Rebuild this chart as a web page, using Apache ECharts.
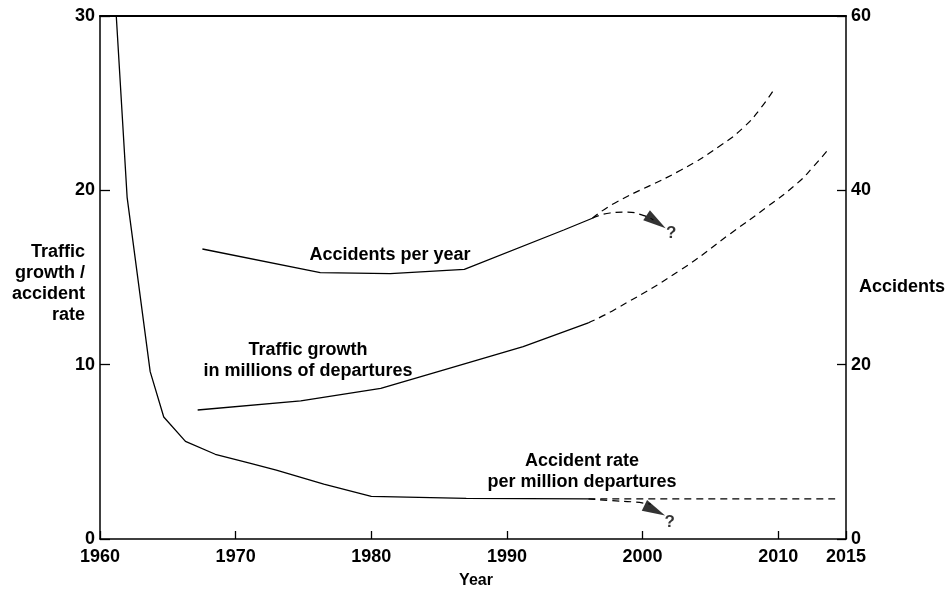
<!DOCTYPE html>
<html>
<head>
<meta charset="utf-8">
<script src="https://cdn.jsdelivr.net/npm/echarts@6/dist/echarts.min.js"></script>
<style>html,body{margin:0;padding:0;background:#fff}#c{width:948px;height:594px}</style>
</head>
<body>
<div id="c"></div>
<script>
// ---- data ----
var xTicks = [1960, 1970, 1980, 1990, 2000, 2010, 2015];
var leftTicks = [0, 10, 20, 30];
var rightTicks = [0, 20, 40, 60];

// Accident rate per million departures (left axis)
var rateYears  = [1961.2, 1962.0, 1963.7, 1964.7, 1966.3, 1968.5, 1971.1, 1973.0, 1976.5, 1980.0, 1987.0, 1996.0];
var rateValues = [30, 19.6, 9.6, 7.0, 5.6, 4.86, 4.34, 3.95, 3.15, 2.45, 2.33, 2.3];
var rateProjYears  = [1996.0, 2014.2];
var rateProjValues = [2.3, 2.3];
var rateBranchYears  = [1996.0, 1997.7, 1999.4, 2000.6];
var rateBranchValues = [2.3, 2.2, 2.12, 2.0];
var rateArrowYear = [2000.9];
var rateArrowValue = [1.64];

// Traffic growth in millions of departures (left axis)
var trafficYears  = [1967.2, 1974.8, 1980.7, 1985.3, 1991.2, 1996.0];
var trafficValues = [7.4, 7.92, 8.64, 9.69, 11.03, 12.4];
var trafficProjYears  = [1996.0, 1997.9, 2002.8, 2006.5, 2009.2, 2011.4, 2012.6, 2013.75];
var trafficProjValues = [12.4, 13.14, 15.43, 17.53, 19.06, 20.4, 21.36, 22.41];

// Accidents per year (right axis)
var accYears  = [1967.55, 1976.24, 1981.4, 1986.86, 1994.19, 1996.3];
var accValues = [33.27, 30.55, 30.44, 30.94, 35.45, 36.8];
var accProjYears  = [1996.3, 1997.9, 2002.8, 2005.8, 2007.5, 2008.7, 2009.7];
var accProjValues = [36.8, 38.5, 42.3, 45.2, 47.3, 49.4, 51.6];
var accBranchYears  = [1996.3, 1997.6, 1998.9, 2000.1, 2000.8];
var accBranchValues = [36.8, 37.4, 37.5, 37.1, 36.6];
var accArrowYear = [2001.0];
var accArrowValue = [36.4];

function pairs(xs, ys) { return xs.map(function (x, i) { return [x, ys[i]]; }); }

var FONT = 'Liberation Sans, Arial, sans-serif';
var lbl = { color: '#000', fontFamily: FONT, fontWeight: 'bold', fontSize: 18 };
var solid = { color: '#000', width: 1.3, type: 'solid' };
var dashed = { color: '#000', width: 1.2, type: [7, 5] };

function lineSeries(name, xs, ys, style, yIdx, smooth) {
  return { name: name, type: 'line', data: pairs(xs, ys), yAxisIndex: yIdx, symbol: 'none',
           smooth: smooth || false, lineStyle: style, silent: true, z: 3 };
}
function arrowSeries(xs, ys, yIdx, rot) {
  return { type: 'scatter', yAxisIndex: yIdx, data: pairs(xs, ys), symbol: 'triangle',
           symbolSize: [12, 23], symbolRotate: rot, itemStyle: { color: '#000' }, silent: true, z: 4,
           label: { show: true, formatter: '?', position: 'inside', offset: [15, 12],
                    color: '#000', fontFamily: FONT, fontWeight: 'bold', fontSize: 17 } };
}

var chart = echarts.init(document.getElementById('c'), null, { renderer: 'canvas' });
chart.setOption({
  animation: false,
  backgroundColor: '#fff',
  grid: { left: 100, right: 102, top: 16, bottom: 55, show: false },
  xAxis: [{
    type: 'value', min: xTicks[0], max: xTicks[xTicks.length - 1], interval: 10,
    axisLine: { onZero: false, lineStyle: { color: '#000', width: 1.5 } },
    axisTick: { inside: true, length: 8, lineStyle: { color: '#000', width: 1.3 } },
    axisLabel: Object.assign({ margin: 9, showMaxLabel: true, showMinLabel: true,
      formatter: function (v) { return String(v); } }, lbl),
    splitLine: { show: false }
  }, {
    type: 'value', position: 'top', min: xTicks[0], max: xTicks[xTicks.length - 1],
    axisLine: { show: true, onZero: false, lineStyle: { color: '#000', width: 2 } },
    axisTick: { show: false }, axisLabel: { show: false }, splitLine: { show: false }
  }],
  yAxis: [{
    type: 'value', min: leftTicks[0], max: leftTicks[leftTicks.length - 1], interval: 10,
    axisLine: { show: true, onZero: false, lineStyle: { color: '#000', width: 1.5 } },
    axisTick: { show: true, inside: true, length: 10, lineStyle: { color: '#000', width: 1.3 } },
    axisLabel: Object.assign({ margin: 5 }, lbl),
    splitLine: { show: false }
  }, {
    type: 'value', position: 'right', min: rightTicks[0], max: rightTicks[rightTicks.length - 1], interval: 20,
    axisLine: { show: true, onZero: false, lineStyle: { color: '#000', width: 1.5 } },
    axisTick: { show: true, inside: true, length: 9, lineStyle: { color: '#000', width: 1.3 } },
    axisLabel: Object.assign({ margin: 5 }, lbl),
    splitLine: { show: false }
  }],
  series: [
    lineSeries('Accident rate', rateYears, rateValues, solid, 0),
    lineSeries('Accident rate projection', rateProjYears, rateProjValues, dashed, 0),
    lineSeries('Accident rate branch', rateBranchYears, rateBranchValues, dashed, 0, true),
    arrowSeries(rateArrowYear, rateArrowValue, 0, -116),
    lineSeries('Traffic growth', trafficYears, trafficValues, solid, 0),
    lineSeries('Traffic growth projection', trafficProjYears, trafficProjValues, dashed, 0, true),
    lineSeries('Accidents per year', accYears, accValues, solid, 1),
    lineSeries('Accidents projection', accProjYears, accProjValues, dashed, 1, true),
    lineSeries('Accidents branch', accBranchYears, accBranchValues, dashed, 1, true),
    arrowSeries(accArrowYear, accArrowValue, 1, -124)
  ],
  graphic: [
    { type: 'text', silent: true, style: { text: 'Traffic\ngrowth /\naccident\nrate', x: 85, y: 284,
      align: 'right', textAlign: 'right', verticalAlign: 'middle', textVerticalAlign: 'middle',
      lineHeight: 21, font: 'bold 18px ' + FONT, fill: '#000' } },
    { type: 'text', silent: true, style: { text: 'Accidents', x: 859, y: 287,
      align: 'left', textAlign: 'left', verticalAlign: 'middle', textVerticalAlign: 'middle',
      font: 'bold 18px ' + FONT, fill: '#000' } },
    { type: 'text', silent: true, style: { text: 'Year', x: 476, y: 581,
      align: 'center', textAlign: 'center', verticalAlign: 'middle', textVerticalAlign: 'middle',
      font: 'bold 16px ' + FONT, fill: '#000' } },
    { type: 'text', silent: true, style: { text: 'Accidents per year', x: 390, y: 255,
      align: 'center', textAlign: 'center', verticalAlign: 'middle', textVerticalAlign: 'middle',
      font: 'bold 18px ' + FONT, fill: '#000' } },
    { type: 'text', silent: true, style: { text: 'Traffic growth\nin millions of departures', x: 308, y: 361,
      align: 'center', textAlign: 'center', verticalAlign: 'middle', textVerticalAlign: 'middle',
      lineHeight: 21, font: 'bold 18px ' + FONT, fill: '#000' } },
    { type: 'text', silent: true, style: { text: 'Accident rate\nper million departures', x: 582, y: 472,
      align: 'center', textAlign: 'center', verticalAlign: 'middle', textVerticalAlign: 'middle',
      lineHeight: 21, font: 'bold 18px ' + FONT, fill: '#000' } }
  ]
});
</script>
</body>
</html>
